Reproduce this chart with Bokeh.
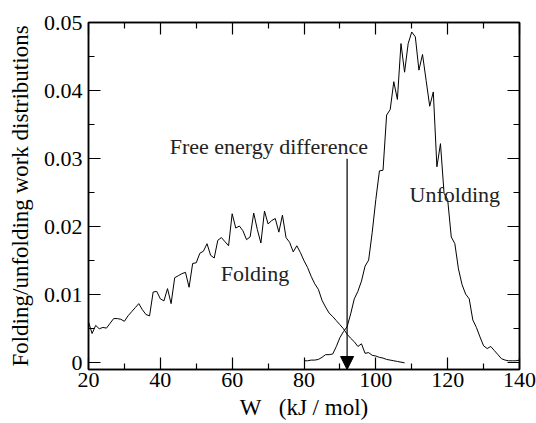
from bokeh.plotting import figure
from bokeh.models import (LinearAxis, FixedTicker, Label, Arrow, NormalHead,
                          CustomJSTickFormatter, Range1d)
from bokeh.embed import file_html
from bokeh.resources import INLINE

# ---------------- data ----------------
fold_w = [20, 21, 22, 23, 24, 25, 26, 27, 28, 29, 30, 31, 32, 33, 34, 35, 36, 37, 38, 39,
          40, 41, 42, 43, 44, 45, 46, 47, 48, 49, 50, 51, 52, 53, 54, 55, 56, 57, 58, 59,
          60, 61, 62, 63, 64, 65, 66, 67, 68, 69, 70, 71, 72, 73, 74, 75, 76, 77, 78, 79,
          80, 81, 82, 83, 84, 85, 86, 87, 88, 89, 90, 91, 92, 93, 94, 95, 96, 97, 98, 99,
          100, 101, 102, 103, 104, 105, 106, 107, 108]
fold_p = [0.0060, 0.0043, 0.0055, 0.0050, 0.0052, 0.0051, 0.0058, 0.0065, 0.0065, 0.0064,
          0.0061, 0.0069, 0.0075, 0.0081, 0.0087, 0.0078, 0.0071, 0.0069, 0.0104, 0.0105,
          0.0094, 0.0091, 0.0109, 0.0087, 0.0125, 0.0128, 0.0131, 0.0133, 0.0111, 0.0146,
          0.0147, 0.0161, 0.0164, 0.0175, 0.0158, 0.0154, 0.0180, 0.0184, 0.0178, 0.0172,
          0.0219, 0.0198, 0.0201, 0.0194, 0.0181, 0.0185, 0.0220, 0.0196, 0.0176, 0.0223,
          0.0204, 0.0209, 0.0212, 0.0192, 0.0217, 0.0184, 0.0177, 0.0163, 0.0172, 0.0162,
          0.0150, 0.0140, 0.0127, 0.0116, 0.0108, 0.0092, 0.0082, 0.0073, 0.0068, 0.0062,
          0.0056, 0.0050, 0.0042, 0.0036, 0.0031, 0.0024, 0.0028, 0.0014, 0.0015, 0.0011,
          0.0010, 0.0008, 0.0007, 0.0005, 0.0004, 0.0003, 0.0002, 0.0001, 0.0000]

unfold_w = [80, 81, 82, 83, 84, 85, 86, 87, 88, 89, 90, 91, 92, 93, 94, 95, 96, 97, 98, 99,
            100, 101, 102, 103, 104, 105, 106, 107, 108, 109, 110, 111, 112, 113, 114, 115,
            116, 117, 118, 119, 120, 121, 122, 123, 124, 125, 126, 127, 128, 129, 130, 131,
            132, 133, 134, 135, 136, 137, 138, 139, 140]
unfold_p = [0.0003, 0.0003, 0.0004, 0.0004, 0.0005, 0.0008, 0.0012, 0.0012, 0.0013, 0.0024,
            0.0037, 0.0046, 0.0053, 0.0072, 0.0094, 0.0105, 0.0120, 0.0142, 0.0151, 0.0192,
            0.0240, 0.0282, 0.0283, 0.0364, 0.0372, 0.0413, 0.0387, 0.0469, 0.0427, 0.0469,
            0.0486, 0.0479, 0.0430, 0.0453, 0.0415, 0.0377, 0.0398, 0.0288, 0.0322, 0.0249,
            0.0240, 0.0185, 0.0175, 0.0138, 0.0115, 0.0101, 0.0094, 0.0063, 0.0052, 0.0038,
            0.0025, 0.0021, 0.0024, 0.0018, 0.0012, 0.0006, 0.0004, 0.0003, 0.0003, 0.0003,
            0.0004]

x_ticks = [20, 40, 60, 80, 100, 120, 140]
x_minor = [30, 50, 70, 90, 110, 130]
y_ticks = [0, 0.01, 0.02, 0.03, 0.04, 0.05]
y_minor = [0.005, 0.015, 0.025, 0.035, 0.045]
y_tick_labels = ["0", "0.01", "0.02", "0.03", "0.04", "0.05"]

free_energy_diff = 92.0
arrow_top = 0.030

x_label = "W\u00a0\u00a0\u00a0(kJ / mol)"
y_label = "Folding/unfolding work distributions"

FONT = "Liberation Serif"

# ---------------- figure ----------------
p = figure(width=536, height=423, output_backend="svg", toolbar_location=None,
           x_range=Range1d(20, 140), y_range=Range1d(-0.00098, 0.05),
           x_axis_type=None, y_axis_type=None,
           min_border_left=88, min_border_right=17, min_border_top=22,
           min_border_bottom=54)
p.grid.visible = False
p.outline_line_color = "black"
p.outline_line_width = 1.5
p.background_fill_color = "white"
p.border_fill_color = "white"

xt = FixedTicker(ticks=x_ticks, minor_ticks=x_minor)
yt = FixedTicker(ticks=y_ticks, minor_ticks=y_minor)


def style(ax, show_labels):
    ax.major_tick_in = 12
    ax.major_tick_out = 0
    ax.minor_tick_in = 6
    ax.minor_tick_out = 0
    ax.major_tick_line_width = 1.2
    ax.minor_tick_line_width = 1.2
    ax.axis_line_width = 1.5
    ax.axis_line_color = "black"
    ax.major_tick_line_color = "black"
    ax.minor_tick_line_color = "black"
    ax.major_label_text_font = FONT
    ax.axis_label_text_font = FONT
    ax.axis_label_text_font_style = "normal"
    ax.major_label_text_color = "black"
    ax.axis_label_text_color = "black"
    if show_labels:
        ax.major_label_text_font_size = "22px"
        ax.axis_label_text_font_size = "23px"
    else:
        ax.major_label_text_font_size = "0px"
        ax.major_label_standoff = 0
        ax.formatter = CustomJSTickFormatter(code="return '';")


bottom = LinearAxis(ticker=xt, axis_label=x_label)
style(bottom, True)
bottom.major_label_standoff = 3
bottom.axis_label_standoff = 5
p.add_layout(bottom, "below")

left = LinearAxis(ticker=yt, axis_label=y_label,
                  major_label_overrides={t: s for t, s in zip(y_ticks, y_tick_labels)})
style(left, True)
left.major_label_standoff = 6
left.axis_label_standoff = 8
p.add_layout(left, "left")

top = LinearAxis(ticker=xt)
style(top, False)
p.add_layout(top, "above")

right = LinearAxis(ticker=yt)
style(right, False)
p.add_layout(right, "right")

# curves
p.line(fold_w, fold_p, line_color="black", line_width=1)
p.line(unfold_w, unfold_p, line_color="black", line_width=1)

# arrow marking the free energy difference
p.add_layout(Arrow(x_start=free_energy_diff, y_start=arrow_top,
                   x_end=free_energy_diff, y_end=-0.00098,
                   line_color="black", line_width=1.2,
                   end=NormalHead(size=13, fill_color="black", line_color="black")))

for txt, xx, yy in [("Free energy difference", 42.6, 0.0318),
                    ("Folding", 56.8, 0.0131),
                    ("Unfolding", 109.4, 0.0247)]:
    p.add_layout(Label(x=xx, y=yy, text=txt, text_font=FONT, text_font_size="22px",
                       text_color="#222222", text_baseline="alphabetic", text_align="left"))

open("out.html", "w").write(file_html(p, INLINE))
